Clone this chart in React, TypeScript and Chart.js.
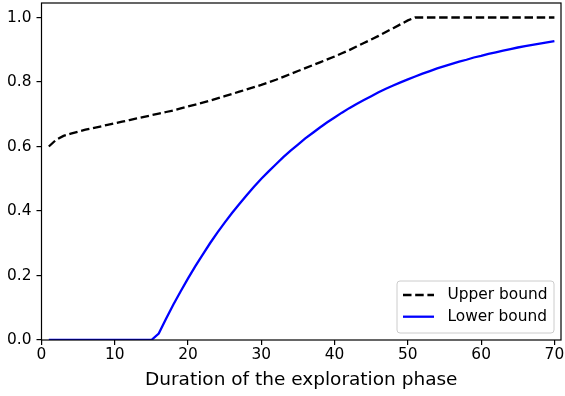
import React, { useEffect, useRef } from "react";
import { Chart, registerables } from "chart.js";

Chart.register(...registerables);

const durations = [
  1, 2, 3, 4, 5, 6, 7, 8, 9, 10, 11, 12, 13, 14, 15, 16, 17, 18, 19, 20,
  21, 22, 23, 24, 25, 26, 27, 28, 29, 30, 31, 32, 33, 34, 35, 36, 37, 38, 39, 40,
  41, 42, 43, 44, 45, 46, 47, 48, 49, 50, 51, 52, 53, 54, 55, 56, 57, 58, 59, 60,
  61, 62, 63, 64, 65, 66, 67, 68, 69, 70,
];

const upperBound = [
  0.6, 0.621, 0.633, 0.64, 0.646, 0.652, 0.657, 0.662, 0.667, 0.672,
  0.677, 0.682, 0.687, 0.692, 0.697, 0.702, 0.707, 0.712, 0.718, 0.724,
  0.73, 0.736, 0.742, 0.749, 0.756, 0.763, 0.77, 0.777, 0.784, 0.791,
  0.799, 0.807, 0.816, 0.825, 0.834, 0.843, 0.852, 0.861, 0.870, 0.879,
  0.889, 0.899, 0.91, 0.921, 0.932, 0.943, 0.955, 0.967, 0.979, 0.991,
  1.0, 1.0, 1.0, 1.0, 1.0, 1.0, 1.0, 1.0, 1.0, 1.0,
  1.0, 1.0, 1.0, 1.0, 1.0, 1.0, 1.0, 1.0, 1.0, 1.0,
];

const lowerBound = [
  0, 0, 0, 0, 0, 0, 0, 0, 0, 0,
  0, 0, 0, 0, 0, 0.02, 0.066, 0.11, 0.151, 0.191,
  0.229, 0.265, 0.3, 0.333, 0.364, 0.394, 0.422, 0.449, 0.475, 0.5,
  0.523, 0.545, 0.567, 0.587, 0.606, 0.625, 0.642, 0.659, 0.675, 0.69,
  0.705, 0.719, 0.732, 0.744, 0.756, 0.768, 0.779, 0.789, 0.799, 0.808,
  0.817, 0.826, 0.834, 0.842, 0.849, 0.856, 0.863, 0.869, 0.876, 0.881,
  0.887, 0.892, 0.897, 0.902, 0.907, 0.911, 0.915, 0.919, 0.923, 0.927,
];

const xTicks = [0, 10, 20, 30, 40, 50, 60, 70];
const yTicks = [0, 0.2, 0.4, 0.6, 0.8, 1.0];
const seriesNames = ["Upper bound", "Lower bound"];
const xTitle = "Duration of the exploration phase";

const FONT = "'DejaVu Sans', sans-serif";
const TICK_SIZE = 15.4;
const TITLE_SIZE = 18.5;

const framePlugin = {
  id: "frame",
  afterDatasetsDraw(chart: any) {
    const { ctx, chartArea } = chart;
    ctx.save();
    ctx.strokeStyle = "#000";
    ctx.lineWidth = 1.2;
    ctx.strokeRect(chartArea.left, chartArea.top, chartArea.right - chartArea.left, chartArea.bottom - chartArea.top);
    ctx.restore();
  },
};

const legendPlugin = {
  id: "mplLegend",
  afterDraw(chart: any) {
    const { ctx, chartArea } = chart;
    const w = 157;
    const h = 52;
    const x = chartArea.right - 7 - w;
    const y = chartArea.bottom - 7 - h;
    ctx.save();
    const r = 3;
    ctx.beginPath();
    ctx.moveTo(x + r, y);
    ctx.lineTo(x + w - r, y);
    ctx.arcTo(x + w, y, x + w, y + r, r);
    ctx.lineTo(x + w, y + h - r);
    ctx.arcTo(x + w, y + h, x + w - r, y + h, r);
    ctx.lineTo(x + r, y + h);
    ctx.arcTo(x, y + h, x, y + h - r, r);
    ctx.lineTo(x, y + r);
    ctx.arcTo(x, y, x + r, y, r);
    ctx.closePath();
    ctx.fillStyle = "rgba(255,255,255,0.8)";
    ctx.fill();
    ctx.strokeStyle = "#cccccc";
    ctx.lineWidth = 1;
    ctx.stroke();
    chart.data.datasets.forEach((ds: any, i: number) => {
      const ly = y + 14 + i * 21.7;
      ctx.beginPath();
      ctx.setLineDash(ds.borderDash || []);
      ctx.strokeStyle = ds.borderColor;
      ctx.lineWidth = ds.borderWidth;
      ctx.moveTo(x + 6, ly);
      ctx.lineTo(x + 37, ly);
      ctx.stroke();
      ctx.setLineDash([]);
      ctx.fillStyle = "#000";
      ctx.font = `${TICK_SIZE}px ${FONT}`;
      ctx.textBaseline = "middle";
      ctx.textAlign = "left";
      ctx.fillText(ds.label, x + 50.5, ly);
    });
    ctx.restore();
  },
};

export default function App() {
  const canvasRef = useRef<HTMLCanvasElement | null>(null);

  useEffect(() => {
    const canvas = canvasRef.current;
    if (!canvas) return;
    const chart = new Chart(canvas, {
      type: "line",
      data: {
        labels: durations,
        datasets: [
          {
            label: seriesNames[0],
            data: durations.map((d, i) => ({ x: d, y: upperBound[i] })),
            borderColor: "#000000",
            borderWidth: 2.3,
            borderDash: [8.5, 3.7],
            pointRadius: 0,
            tension: 0,
            fill: false,
          },
          {
            label: seriesNames[1],
            data: durations.map((d, i) => ({ x: d, y: lowerBound[i] })),
            borderColor: "#0000ff",
            borderWidth: 2.3,
            pointRadius: 0,
            tension: 0,
            fill: false,
          },
        ],
      },
      options: {
        responsive: false,
        animation: false,
        devicePixelRatio: 1,
        layout: { padding: { top: 3, right: 4, left: 0, bottom: 0 } },
        plugins: {
          legend: { display: false },
          tooltip: { enabled: false },
        },
        scales: {
          x: {
            type: "linear",
            min: 0,
            max: 70.9,
            afterBuildTicks: (axis: any) => {
              axis.ticks = xTicks.map((v) => ({ value: v }));
            },
            afterFit: (axis: any) => {
              axis.height = 56;
              axis.paddingLeft = 0;
              axis.paddingRight = 0;
            },
            grid: {
              display: true,
              drawOnChartArea: false,
              drawTicks: true,
              tickLength: 5,
              lineWidth: 1.2,
              color: "#000",
              tickColor: "#000",
            },
            border: { display: false },
            ticks: {
              color: "#000",
              font: { family: FONT, size: TICK_SIZE },
              padding: 1,
              maxRotation: 0,
              callback: (v: any) => String(v),
            },
            title: {
              display: true,
              text: xTitle,
              color: "#000",
              font: { family: FONT, size: TITLE_SIZE },
              padding: { top: 0, bottom: 5 },
            },
          },
          y: {
            type: "linear",
            min: 0,
            max: 1.045,
            afterBuildTicks: (axis: any) => {
              axis.ticks = yTicks.map((v) => ({ value: v }));
            },
            afterFit: (axis: any) => {
              axis.width = 41.5;
              axis.paddingTop = 0;
              axis.paddingBottom = 0;
            },
            grid: {
              display: true,
              drawOnChartArea: false,
              drawTicks: true,
              tickLength: 5,
              lineWidth: 1.2,
              color: "#000",
              tickColor: "#000",
            },
            border: { display: false },
            ticks: {
              color: "#000",
              font: { family: FONT, size: TICK_SIZE },
              padding: 5,
              callback: (v: any) => Number(v).toFixed(1),
            },
          },
        },
      },
      plugins: [framePlugin, legendPlugin],
    } as any);
    return () => chart.destroy();
  }, []);

  return (
    <div style={{ position: "fixed", left: 0, top: 0, width: 565, height: 396, background: "#fff" }}>
      <canvas ref={canvasRef} width={565} height={396} style={{ width: 565, height: 396, display: "block" }} />
    </div>
  );
}
